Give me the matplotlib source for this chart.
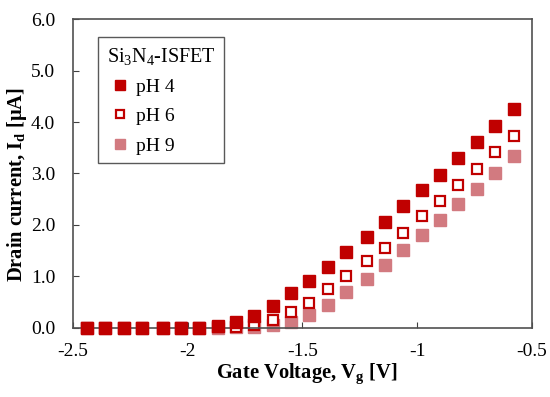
import numpy as np
import matplotlib
matplotlib.use("Agg")
import matplotlib.pyplot as plt

# Donnees (tension de grille en V, courant de drain en uA)
vg = [-2.44, -2.36, -2.28, -2.20, -2.11, -2.03, -1.95, -1.87, -1.79, -1.71, -1.63, -1.55,
      -1.47, -1.39, -1.31, -1.22, -1.14, -1.06, -0.98, -0.90, -0.82, -0.74, -0.66, -0.58]
id_ph4 = [0, 0, 0, 0, 0, 0, 0, 0.04, 0.12, 0.23, 0.43, 0.67,
          0.92, 1.19, 1.47, 1.77, 2.05, 2.37, 2.68, 2.98, 3.30, 3.62, 3.93, 4.25]
id_ph6 = [0, 0, 0, 0, 0, 0, 0, 0.01, 0.02, 0.06, 0.16, 0.30,
          0.49, 0.75, 1.00, 1.30, 1.56, 1.85, 2.17, 2.46, 2.77, 3.09, 3.42, 3.73]
id_ph9 = [0, 0, 0, 0, 0, 0, 0, 0, 0.01, 0.02, 0.05, 0.12,
          0.25, 0.45, 0.69, 0.95, 1.22, 1.51, 1.80, 2.10, 2.40, 2.70, 3.01, 3.34]

xticks = [-2.5, -2, -1.5, -1, -0.5]
yticks = [0.0, 1.0, 2.0, 3.0, 4.0, 5.0, 6.0]

plt.rcParams['font.family'] = ['Liberation Serif', 'DejaVu Serif']
plt.rcParams['mathtext.fontset'] = 'custom'
plt.rcParams['mathtext.rm'] = 'Liberation Serif'
plt.rcParams['mathtext.it'] = 'Liberation Serif'
plt.rcParams['mathtext.bf'] = 'Liberation Serif:bold'

fig = plt.figure(figsize=(5.5, 3.97), dpi=100)
ax = fig.add_axes([0.133, 0.174, 0.834, 0.778])

ms = 8
ax.plot(vg, id_ph4, 's', ms=ms, color='#C00000', mec='#C00000', label='pH 4',
        zorder=3, clip_on=False)
ax.plot(vg, id_ph6, 's', ms=ms - 1, mfc='white', mec='#C00000', mew=1.6, label='pH 6',
        zorder=2, clip_on=False)
ax.plot(vg, id_ph9, 's', ms=ms, color='#D27A80', mec='#D27A80', label='pH 9',
        zorder=1, clip_on=False)

ax.set_xlim(-2.5, -0.5)
ax.set_ylim(0, 6)
ax.set_xticks(xticks)
ax.set_xticklabels(['-2.5', '-2', '-1.5', '-1', '-0.5'])
ax.set_yticks(yticks)
ax.set_yticklabels([f'{v:.1f}' for v in yticks])
ax.tick_params(direction='in', length=4, labelsize=14, color='#404040')
ax.tick_params(axis='x', pad=11)
ax.tick_params(axis='y', pad=13)

for s in ax.spines.values():
    s.set_color('#505050')
    s.set_linewidth(1.2)

ax.set_xlabel(r'Gate Voltage, V$_\mathbf{g}$ [V]', fontsize=14.8, fontweight='bold')
ax.set_ylabel(r'Drain current, I$_\mathbf{d}$ [μA]', fontsize=14.8, fontweight='bold')
ax.xaxis.set_label_coords(0.508, -0.11)
ax.yaxis.set_label_coords(-0.097, 0.463)

leg = ax.legend(title=r'Si$_3$N$_4$-ISFET', loc='upper left', bbox_to_anchor=(0.054, 0.942),
                fontsize=14, title_fontsize=14.5, frameon=True, fancybox=False,
                edgecolor='#303030', handlelength=1.4, handletextpad=0.1,
                labelspacing=0.6, borderpad=0.45, borderaxespad=0, markerscale=0.85)
leg._legend_box.align = 'left'
leg.get_frame().set_linewidth(1.0)

fig.savefig('out.png', dpi=100)
